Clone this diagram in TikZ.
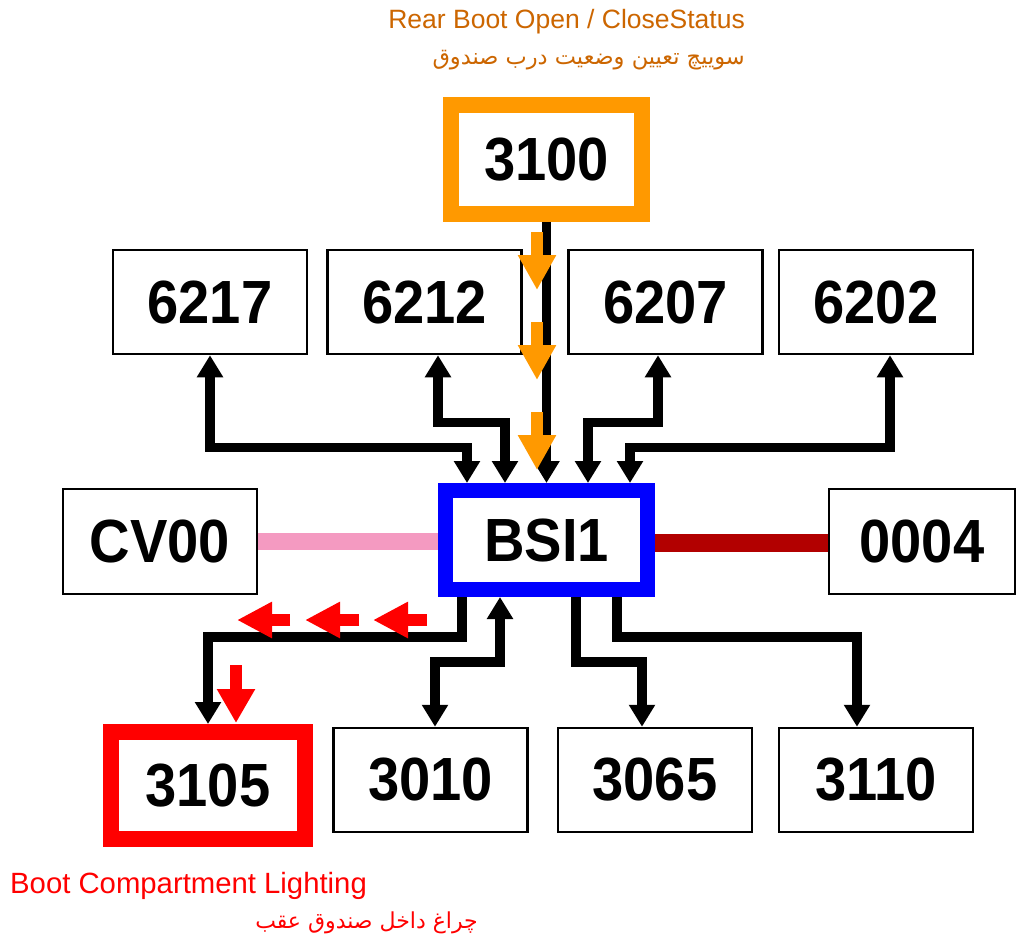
\documentclass[tikz,border=0pt]{standalone}
\usepackage{fontspec}
\setmainfont{Liberation Sans}
\newfontfamily\boxfont[FakeStretch=0.92]{Liberation Sans}
\newfontfamily\arabicfont[Script=Arabic]{DejaVu Sans}
\TeXXeTstate=1
\usetikzlibrary{arrows.meta}
\definecolor{orng}{RGB}{255,153,0}
\definecolor{txtorange}{RGB}{204,102,0}
\definecolor{pinkline}{RGB}{244,154,193}
\definecolor{darkredline}{RGB}{178,0,0}
\definecolor{bsiblue}{RGB}{0,0,255}
\tikzset{
  box/.style={draw=black, line width=2.5pt, fill=white, minimum width=194pt, minimum height=104pt, inner sep=0pt,
    font=\boxfont\bfseries\fontsize{61}{61}\selectfont},
  conn/.style={line width=9.5pt, draw=black, -{Triangle[width=25pt,length=22pt]}},
  dconn/.style={line width=9.5pt, draw=black, {Triangle[width=25pt,length=22pt]}-{Triangle[width=25pt,length=22pt]}},
  orangearrow/.style={draw=orng, line width=12pt, -{Triangle[width=36pt,length=35pt]}},
  redarrow/.style={draw=red, line width=12pt, -{Triangle[width=34pt,length=35pt]}},
  lbl/.style={inner sep=0pt}
}
\begin{document}
\begin{tikzpicture}[x=1pt,y=-1pt]
\fill[white] (0,0) rectangle (1017,937);
\useasboundingbox (0,0) rectangle (1017,937);

% top row
\node[box] (n6217) at (210,302) {6217};
\node[box] (n6212) at (424.5,302) {6212};
\node[box] (n6207) at (665.5,302) {6207};
\node[box] (n6202) at (876,302) {6202};
\node[box, draw=orng, line width=16pt, minimum width=191pt, minimum height=109pt] (n3100) at (546.5,159.5) {3100};

% middle row
\node[box, minimum width=194pt, minimum height=105pt] (cv) at (160,541.5) {CV00};
\node[box, minimum width=186pt, minimum height=105pt] (n0004) at (922,541.5) {0004};
\node[box, draw=bsiblue, line width=15pt, minimum width=202pt, minimum height=99pt] (bsi) at (546.5,540) {BSI1};

% bottom row
\node[box, draw=red, line width=16pt, minimum width=194pt, minimum height=107pt] (n3105) at (208,785.5) {3105};
\node[box] (n3010) at (430.5,780) {3010};
\node[box] (n3065) at (655,780) {3065};
\node[box] (n3110) at (876,780) {3110};

% bus lines
\draw[pinkline, line width=17pt] (cv.east) -- (cv.east -| bsi.west);
\draw[darkredline, line width=18pt] ([yshift=-3pt]bsi.east) -- ([yshift=-3pt]bsi.east -| n0004.west);

% top connectors
\draw[dconn] (n6217.south) -- ++(0,92) -| ([xshift=-79.5pt]bsi.north);
\draw[dconn] ([xshift=13.5pt]n6212.south) -- ++(0,67) -| ([xshift=-41.5pt]bsi.north);
\draw[conn] (n3100.south) -- (bsi.north);
\draw[dconn] ([xshift=-7.5pt]n6207.south) -- ++(0,67) -| ([xshift=41.5pt]bsi.north);
\draw[dconn] ([xshift=14pt]n6202.south) -- ++(0,92) -| ([xshift=83.5pt]bsi.north);

% bottom connectors
\draw[conn] ([xshift=-84.5pt]bsi.south) -- ++(0,40) -| (n3105.north);
\draw[dconn] ([xshift=-46.5pt]bsi.south) -- ++(0,65) -| ([xshift=4.5pt]n3010.north);
\draw[conn] ([xshift=29.5pt]bsi.south) -- ++(0,65) -| ([xshift=-13pt]n3065.north);
\draw[conn] ([xshift=70.5pt]bsi.south) -- ++(0,40) -| ([xshift=-19pt]n3110.north);

% orange signal arrows
\draw[orangearrow] (537,232) -- (537,290);
\draw[orangearrow] (537,322) -- (537,380);
\draw[orangearrow] (537,412) -- (537,470);

% red signal arrows
\draw[redarrow] (290,620) -- (237,620);
\draw[redarrow] (359,620) -- (305,620);
\draw[redarrow] (427,620) -- (373,620);
\draw[redarrow, -{Triangle[width=36pt,length=34pt]}] (236,665) -- (236,723);

% captions
\node[lbl, anchor=base east, text=txtorange, font=\fontsize{26.5}{30}\selectfont] (cap1) at (745,28) {Rear Boot Open / CloseStatus};
\node[lbl, anchor=base east, text=txtorange, font=\arabicfont\fontsize{22.5}{26}\selectfont] (cap2) at (745,64) {\beginR سوییچ تعیین وضعیت درب صندوق\endR};
\node[lbl, anchor=base west, text=red, font=\fontsize{29.3}{32}\selectfont] (cap3) at (10,893) {Boot Compartment Lighting};
\node[lbl, anchor=base east, text=red, font=\arabicfont\fontsize{22}{26}\selectfont] (cap4) at (478,928) {\beginR چراغ داخل صندوق عقب\endR};
\end{tikzpicture}
\end{document}
